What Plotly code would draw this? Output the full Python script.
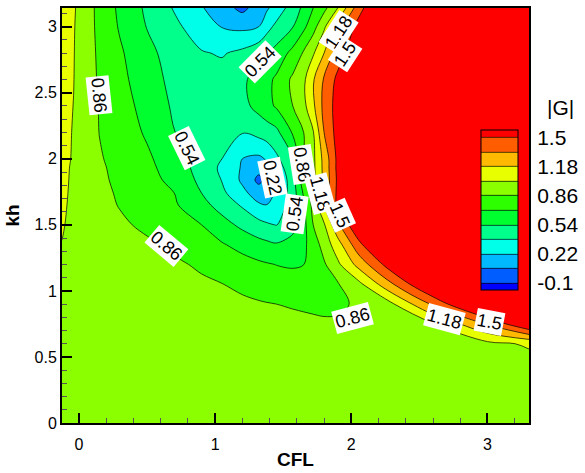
import plotly.graph_objects as go

# ---------------- data ----------------
cfl = [-0.125, -0.04, 0.05, 0.15, 0.3, 0.5, 0.7, 0.9, 1.05, 1.2, 1.32, 1.38, 1.45,
       1.57, 1.65, 1.72, 1.8, 1.9, 2.05, 2.3, 2.6, 3.0, 3.305]
kh = [0, 0.35, 0.5, 0.6, 0.75, 0.9, 1.05, 1.2, 1.35, 1.5, 1.65, 1.74, 1.84, 1.93,
      2.0, 2.2, 2.4, 2.6, 2.8, 3.0, 3.14159]

G = [
    [1.0] * 23,
    [0.999, 0.998, 0.997, 0.996, 0.994, 0.992, 0.989, 0.986, 0.984, 0.982, 0.98, 0.979, 0.978, 0.977, 0.976, 0.975, 0.974, 0.972, 0.97, 0.968, 0.968, 0.975, 0.985],
    [0.998, 0.996, 0.993, 0.991, 0.987, 0.983, 0.978, 0.973, 0.969, 0.966, 0.963, 0.961, 0.959, 0.956, 0.954, 0.952, 0.95, 0.946, 0.942, 0.942, 0.95, 0.972, 0.99],
    [0.997, 0.995, 0.991, 0.988, 0.983, 0.977, 0.97, 0.963, 0.958, 0.954, 0.95, 0.9475, 0.945, 0.941, 0.938, 0.935, 0.932, 0.927, 0.921, 0.924, 0.94, 0.98, 1.04],
    [0.995, 0.993, 0.99, 0.985, 0.978, 0.97, 0.958, 0.946, 0.936, 0.924, 0.914, 0.909, 0.904, 0.896, 0.891, 0.886, 0.881, 0.875, 0.888, 0.927, 1.009, 1.355, 1.68],
    [0.995, 0.993, 0.988, 0.981, 0.97, 0.955, 0.937, 0.919, 0.904, 0.888, 0.874, 0.867, 0.86, 0.848, 0.84, 0.833, 0.825, 0.841, 0.875, 1.0, 1.367, 1.85, 2.05],
    [0.998, 0.995, 0.987, 0.974, 0.955, 0.93, 0.905, 0.881, 0.863, 0.829, 0.799, 0.785, 0.771, 0.75, 0.756, 0.772, 0.79, 0.848, 0.969, 1.324, 1.729, 2.1, 2.25],
    [1.005, 0.998, 0.987, 0.971, 0.946, 0.914, 0.881, 0.841, 0.80, 0.76, 0.727, 0.712, 0.697, 0.688, 0.699, 0.76, 0.84, 0.988, 1.228, 1.605, 2.0, 2.25, 2.35],
    [1.018, 1.005, 0.982, 0.966, 0.932, 0.887, 0.833, 0.765, 0.714, 0.648, 0.594, 0.575, 0.555, 0.607, 0.667, 0.775, 0.924, 1.111, 1.44, 1.9, 2.2, 2.35, 2.45],
    [1.027, 0.999, 0.97, 0.938, 0.889, 0.825, 0.763, 0.70, 0.60, 0.5025, 0.432, 0.40, 0.375, 0.48, 0.647, 0.86, 1.002, 1.308, 1.665, 2.1, 2.3, 2.4, 2.5],
    [1.035, 1.0, 0.96, 0.915, 0.851, 0.785, 0.719, 0.591, 0.478, 0.36, 0.24, 0.222, 0.273, 0.46, 0.673, 0.913, 1.18, 1.541, 1.788, 2.2, 2.35, 2.45, 2.55],
    [1.04, 1.001, 0.956, 0.905, 0.839, 0.77, 0.70, 0.54, 0.414, 0.263, 0.14, 0.17, 0.235, 0.457, 0.72, 0.946, 1.2, 1.544, 1.78, 2.17, 2.32, 2.45, 2.57],
    [1.045, 1.0025, 0.95, 0.8915, 0.825, 0.753, 0.658, 0.501, 0.374, 0.191, 0.02, 0.111, 0.201, 0.478, 0.80, 0.97, 1.217, 1.53, 1.772, 2.15, 2.3, 2.45, 2.6],
    [1.047, 1.005, 0.948, 0.884, 0.816, 0.739, 0.629, 0.479, 0.35, 0.203, 0.112, 0.18, 0.28, 0.505, 0.84, 0.98, 1.227, 1.543, 1.76, 2.12, 2.3, 2.47, 2.65],
    [1.05, 1.01, 0.946, 0.874, 0.807, 0.726, 0.61, 0.478, 0.38, 0.22, 0.188, 0.236, 0.348, 0.525, 0.86, 0.984, 1.233, 1.542, 1.751, 2.1, 2.3, 2.5, 2.7],
    [1.055, 1.013, 0.94, 0.857, 0.784, 0.68, 0.543, 0.45, 0.41, 0.387, 0.43, 0.46, 0.50, 0.718, 0.86, 1.009, 1.34, 1.567, 1.767, 2.1, 2.3, 2.55, 2.8],
    [1.06, 1.018, 0.937, 0.852, 0.768, 0.643, 0.517, 0.454, 0.435, 0.492, 0.592, 0.65, 0.72, 0.86, 0.976, 1.148, 1.389, 1.566, 1.748, 2.05, 2.3, 2.6, 2.85],
    [1.07, 1.023, 0.932, 0.841, 0.745, 0.606, 0.498, 0.445, 0.4425, 0.511, 0.605, 0.657, 0.728, 0.89, 0.989, 1.164, 1.361, 1.54, 1.713, 2.0, 2.3, 2.65, 2.9],
    [1.08, 1.026, 0.93, 0.833, 0.722, 0.579, 0.477, 0.391, 0.367, 0.417, 0.491, 0.528, 0.597, 0.748, 0.878, 1.002, 1.18, 1.42, 1.629, 1.95, 2.3, 2.7, 2.95],
    [1.09, 1.03, 0.93, 0.821, 0.685, 0.534, 0.416, 0.294, 0.214, 0.186, 0.22, 0.327, 0.419, 0.535, 0.666, 0.80, 0.993, 1.26, 1.562, 1.95, 2.35, 2.75, 3.0],
    [1.10, 1.037, 0.933, 0.815, 0.669, 0.511, 0.367, 0.233, 0.125, 0.018, 0.135, 0.199, 0.287, 0.453, 0.576, 0.70, 0.816, 1.02, 1.42, 1.9, 2.3, 2.7, 3.0],
]
assert len(G) == len(kh) and all(len(r) == len(cfl) for r in G)

level_start, level_end, level_size = -0.1, 1.5, 0.16
cbar_ticks = [-0.1, 0.22, 0.54, 0.86, 1.18, 1.5]
cbar_labels = ["-0.1", "0.22", "0.54", "0.86", "1.18", "1.5"]

# contour labels: (text, CFL, kh, angle)
contour_labels = [
    ("0.86", 0.144, 2.48, 84),
    ("0.54", 0.79, 2.08, 64),
    ("0.54", 1.33, 2.73, -45),
    ("0.22", 1.418, 1.86, 78),
    ("0.54", 1.583, 1.583, -82),
    ("0.86", 1.638, 1.96, 81),
    ("1.18", 1.774, 1.737, 75),
    ("1.5", 1.913, 1.572, 66),
    ("1.18", 1.908, 2.96, -57),
    ("1.5", 1.957, 2.79, -57),
    ("0.86", 0.643, 1.341, 40),
    ("0.86", 2.007, 0.796, -15),
    ("1.18", 2.681, 0.79, 15),
    ("1.5", 3.017, 0.766, 11),
]

# ---------------- style ----------------
band_colors = ["rgb(0,0,255)", "rgb(0,93,255)", "rgb(0,185,255)", "rgb(0,255,232)",
               "rgb(0,255,139)", "rgb(0,255,46)", "rgb(46,255,0)", "rgb(139,255,0)",
               "rgb(232,255,0)", "rgb(255,185,0)", "rgb(255,93,0)", "rgb(255,0,0)"]
n = len(band_colors)
cscale = []
for k, c in enumerate(band_colors):
    lo = max(0.0, (k - 0.5) / (n - 1))
    hi = min(1.0, (k + 0.5) / (n - 1))
    cscale.append([lo, c])
    cscale.append([hi, c])

FONT = "Arial, Liberation Sans, sans-serif"

fig = go.Figure()
fig.add_trace(go.Contour(
    x=cfl, y=kh, z=G,
    autocontour=False,
    contours=dict(start=level_start, end=level_end, size=level_size, coloring="fill"),
    colorscale=cscale,
    line=dict(color="black", width=0.7, smoothing=1.0),
    hoverinfo="skip",
    colorbar=dict(
        x=0.897, xanchor="left", xref="paper", xpad=0,
        y=0.5124, yanchor="middle", ypad=0,
        len=0.3864, lenmode="fraction",
        thickness=37, thicknessmode="pixels",
        outlinewidth=1, outlinecolor="black",
        tickvals=cbar_ticks, ticktext=cbar_labels,
        ticks="outside", ticklen=15, tickcolor="rgba(0,0,0,0)",
        tickfont=dict(family=FONT, size=21, color="black"),
        borderwidth=0,
    ),
))

for txt, xv, yv, ang in contour_labels:
    fig.add_annotation(x=xv, y=yv, xref="x", yref="y", text=txt, showarrow=False,
                       textangle=ang, bgcolor="white", borderpad=1,
                       font=dict(family=FONT, size=18, color="black"))

fig.add_annotation(x=1.068, y=0.761, xref="paper", yref="paper", text="|G|",
                   showarrow=False, xanchor="center", yanchor="middle",
                   font=dict(family=FONT, size=21, color="black"))

axis_common = dict(
    showgrid=False, zeroline=False, showline=True, linewidth=2, linecolor="black",
    mirror=True, ticks="inside", ticklen=10, tickwidth=2, tickcolor="black",
    tickfont=dict(family=FONT, size=16, color="black"),
)
fig.update_xaxes(range=[-0.125, 3.305], tick0=0, dtick=1, ticklabelstandoff=6,
                 minor=dict(ticks="inside", ticklen=5, tickwidth=1, tickcolor="#555", dtick=0.2, tick0=0),
                 title=dict(text="<b>CFL</b>", font=dict(family=FONT, size=19, color="black"), standoff=0),
                 **axis_common)
fig.update_yaxes(range=[0, 3.14159], tick0=0, dtick=0.5,
                 minor=dict(ticks="inside", ticklen=5, tickwidth=1, tickcolor="#555", dtick=0.1, tick0=0),
                 title=dict(text="<b>kh</b>", font=dict(family=FONT, size=19, color="black"), standoff=10),
                 **axis_common)

fig.update_layout(
    width=585, height=473,
    margin=dict(l=62, r=55, t=6, b=40),
    paper_bgcolor="white", plot_bgcolor="white",
    showlegend=False,
)

fig.write_html("out.html")
